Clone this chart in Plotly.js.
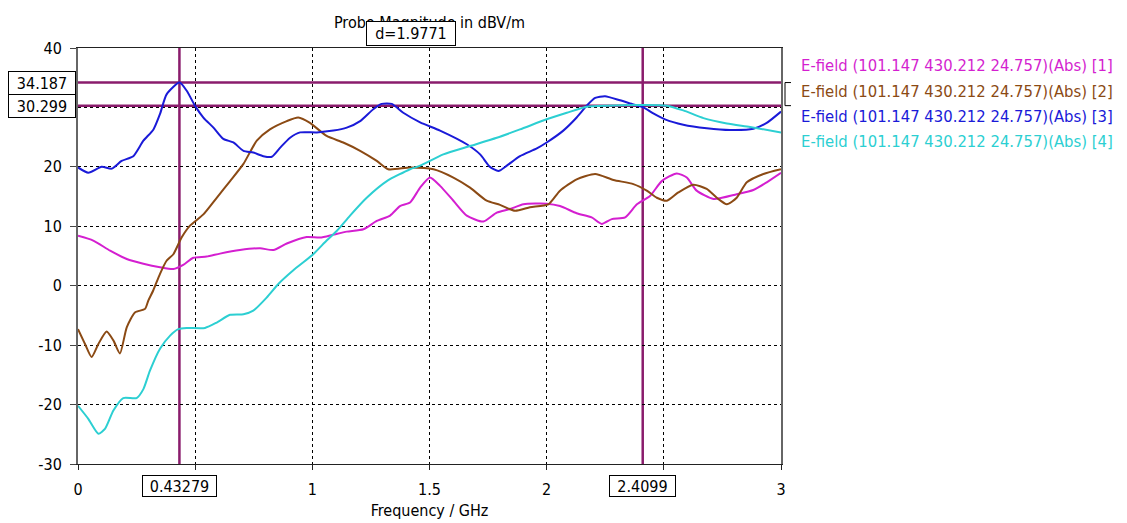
<!DOCTYPE html>
<html>
<head>
<meta charset="utf-8">
<script src="https://cdn.plot.ly/plotly-3.0.1.min.js"></script>
<style>html,body{margin:0;padding:0;background:#fff;}#chart{width:1127px;height:523px;}</style>
</head>
<body>
<div id="chart"></div>
<script>
// ---- data ----
const seriesNames = [
  "E-field (101.147 430.212 24.757)(Abs) [1]",
  "E-field (101.147 430.212 24.757)(Abs) [2]",
  "E-field (101.147 430.212 24.757)(Abs) [3]",
  "E-field (101.147 430.212 24.757)(Abs) [4]"
];
const seriesColors = ["#d41fd0", "#8b4a14", "#1a1ad8", "#2ccfd2"];

const freq1 = [0,0.065,0.137,0.208,0.279,0.350,0.407,0.449,0.492,0.549,0.606,0.691,0.777,0.834,0.891,0.976,1.033,1.090,1.147,1.218,1.275,1.332,1.374,1.417,1.460,1.502,1.545,1.602,1.659,1.730,1.787,1.844,1.901,2.0,2.057,2.128,2.192,2.235,2.278,2.335,2.385,2.441,2.491,2.555,2.598,2.640,2.712,2.811,2.882,2.939,3.0];
const efield1 = [8.4,7.6,5.9,4.5,3.7,3.1,2.8,3.5,4.7,4.9,5.4,6.0,6.3,6.0,7.1,8.2,8.1,8.6,9.1,9.5,10.9,11.8,13.4,14.0,16.5,18.2,16.8,14.3,11.8,10.8,12.3,12.9,13.7,13.8,13.4,12.2,11.5,10.4,11.2,11.5,13.7,15.1,17.6,18.9,18.2,16.0,14.6,15.4,16.1,17.4,19.0];

const freq2 = [0,0.030,0.058,0.087,0.122,0.151,0.179,0.208,0.243,0.286,0.300,0.321,0.350,0.378,0.407,0.442,0.478,0.535,0.592,0.649,0.706,0.763,0.819,0.891,0.940,0.990,1.061,1.132,1.204,1.275,1.324,1.417,1.517,1.602,1.673,1.744,1.801,1.865,1.929,2.007,2.057,2.128,2.207,2.285,2.370,2.427,2.470,2.513,2.562,2.626,2.683,2.726,2.769,2.811,2.854,2.925,3.0];
const efield2 = [-7.3,-9.8,-12.0,-9.8,-7.7,-9.2,-11.4,-7.0,-4.5,-3.9,-2.5,-0.8,2.0,4.2,5.3,8.1,10.1,12.0,14.8,17.6,20.5,24.4,26.3,27.7,28.3,27.4,25.2,24.1,22.7,21.0,19.6,19.9,19.6,18.2,16.5,14.3,13.6,12.6,13.2,13.7,16.0,17.9,18.8,17.8,17.1,16.0,14.8,14.3,15.7,17.0,16.3,14.8,13.7,14.8,17.4,18.8,19.6];

const freq3 = [0,0.044,0.101,0.144,0.186,0.236,0.279,0.322,0.350,0.378,0.433,0.464,0.499,0.535,0.578,0.620,0.663,0.706,0.748,0.791,0.827,0.862,0.905,0.948,1.019,1.090,1.147,1.204,1.260,1.296,1.339,1.388,1.460,1.545,1.659,1.716,1.758,1.794,1.830,1.886,1.958,2.000,2.071,2.128,2.171,2.207,2.249,2.313,2.370,2.413,2.455,2.505,2.583,2.683,2.783,2.882,2.939,3.0];
const efield3 = [19.9,19.0,20.0,19.7,21.0,21.8,24.4,26.3,28.9,32.2,34.19,32.8,30.3,28.3,26.6,24.7,24.1,22.7,22.4,21.8,21.7,23.2,24.9,25.8,25.8,26.1,26.6,27.7,29.7,30.6,30.6,29.1,27.5,26.1,23.8,22.1,20.0,19.3,20.2,21.8,23.1,24.1,26.1,28.3,30.3,31.6,31.9,31.2,30.5,30.0,29.0,28.0,27.1,26.5,26.2,26.4,27.4,29.3];

const freq4 = [0,0.044,0.087,0.115,0.151,0.193,0.250,0.279,0.307,0.350,0.393,0.428,0.464,0.542,0.592,0.649,0.706,0.748,0.805,0.855,0.919,1.004,1.061,1.104,1.161,1.232,1.318,1.417,1.460,1.559,1.673,1.787,1.886,2.0,2.086,2.171,2.256,2.399,2.513,2.583,2.669,2.769,2.868,3.0];
const efield4 = [-20.2,-22.4,-24.9,-24.1,-21.0,-18.9,-18.9,-17.4,-14.3,-10.6,-8.4,-7.3,-7.1,-7.1,-6.2,-4.9,-4.8,-4.2,-2.0,0.3,2.6,5.3,7.6,9.2,11.8,14.8,17.6,19.6,20.2,22.1,23.5,24.9,26.3,28.0,29.1,30.1,30.3,30.4,30.3,29.5,28.2,27.3,26.7,25.8];

const xTickVals = [0,0.5,1,1.5,2,2.5,3];
const xTickText = ["0","","1","1.5","2","","3"];
const yTickVals = [40,30,20,10,0,-10,-20,-30];
const yTickText = ["40","","20","10","0","-10","-20","-30"];

const markerX = [0.43279, 2.4099];
const markerXLabels = ["0.43279", "2.4099"];
const markerY = [34.187, 30.299];
const markerYLabels = ["34.187", "30.299"];
const deltaLabel = "d=1.9771";

const chartTitle = "Probe Magnitude in dBV/m";
const xTitle = "Frequency / GHz";

// ---- build ----
const FONT = "DejaVu Sans Condensed, DejaVu Sans, sans-serif";
const markerColor = "#8a1c6c";
const xs = [freq1, freq2, freq3, freq4];
const ys = [efield1, efield2, efield3, efield4];

const traces = xs.map((x, i) => ({
  x: x, y: ys[i], type: "scatter", mode: "lines", name: seriesNames[i],
  line: {color: seriesColors[i], width: 2, shape: "spline", smoothing: 0.6},
  showlegend: false, hoverinfo: "skip"
}));

const shapes = [];
markerX.forEach(v => shapes.push({type:"line", xref:"x", yref:"paper", x0:v, x1:v, y0:0, y1:1, layer:"below", line:{color:markerColor, width:2.5}}));
markerY.forEach(v => shapes.push({type:"line", xref:"paper", yref:"y", x0:0, x1:1, y0:v, y1:v, layer:"below", line:{color:markerColor, width:2.5}}));
// bracket beside legend
shapes.push({type:"path", xref:"paper", yref:"y",
  path: "M 1.0142," + markerY[0] + " L 1.0057," + markerY[0] + " L 1.0057," + markerY[1] + " L 1.0142," + markerY[1],
  line:{color:"#000", width:1}});

const annotations = [];
const legendY = [0.9573, 0.8963, 0.8355, 0.7748];
seriesNames.forEach((n, i) => annotations.push({
  text: n, xref:"paper", yref:"paper", x:1.0256, y:legendY[i], xanchor:"left", yanchor:"middle",
  showarrow:false, font:{family:FONT, size:16.5, color:seriesColors[i]}
}));
const boxStyle = {showarrow:false, bgcolor:"#fff", bordercolor:"#000", borderwidth:1, borderpad:2, font:{family:FONT, size:16, color:"#000"}};
markerYLabels.forEach((t, i) => annotations.push(Object.assign({}, boxStyle, {
  text:t, xref:"paper", yref:"y", x:-0.003, y:markerY[i], xanchor:"right", yanchor:"middle", width:62, height:18
})));
markerXLabels.forEach((t, i) => annotations.push(Object.assign({}, boxStyle, {
  text:t, xref:"x", yref:"paper", x:markerX[i], y:-0.0528, xanchor:"center", yanchor:"middle", width: i===0?69:61, height:16
})));
annotations.push(Object.assign({}, boxStyle, {
  text:deltaLabel, xref:"x", yref:"paper", x:(markerX[0]+markerX[1])/2, y:1.034, xanchor:"center", yanchor:"middle", width:84, height:19
}));

const layout = {
  width:1127, height:523,
  margin:{l:78, r:346, t:48, b:59, pad:0},
  paper_bgcolor:"#fff", plot_bgcolor:"#fff",
  font:{family:FONT, size:16, color:"#000"},
  title:{text:chartTitle, xref:"paper", x:0.5, xanchor:"center", yref:"container", y:0.958, yanchor:"middle", font:{family:FONT, size:16, color:"#000"}},
  xaxis:{range:[0,3], tickvals:xTickVals, ticktext:xTickText, showgrid:true, gridcolor:"#000", gridwidth:1, griddash:"3px,3px",
    zeroline:false, showline:true, linecolor:"#222", linewidth:1, mirror:true, ticks:"outside", ticklen:5, tickcolor:"#222",
    ticklabelstandoff:6, automargin:false,
    title:{text:xTitle, standoff:6, font:{family:FONT, size:16, color:"#000"}}},
  yaxis:{range:[-30,40], tickvals:yTickVals, ticktext:yTickText, showgrid:true, gridcolor:"#000", gridwidth:1, griddash:"3px,3px",
    zeroline:false, showline:true, linecolor:"#666", linewidth:2, mirror:true, ticks:"outside", ticklen:6, tickcolor:"#444",
    ticklabelstandoff:5, automargin:false},
  shapes:shapes, annotations:annotations, showlegend:false
};

Plotly.newPlot("chart", traces, layout, {staticPlot:true, displayModeBar:false});
</script>
</body>
</html>
